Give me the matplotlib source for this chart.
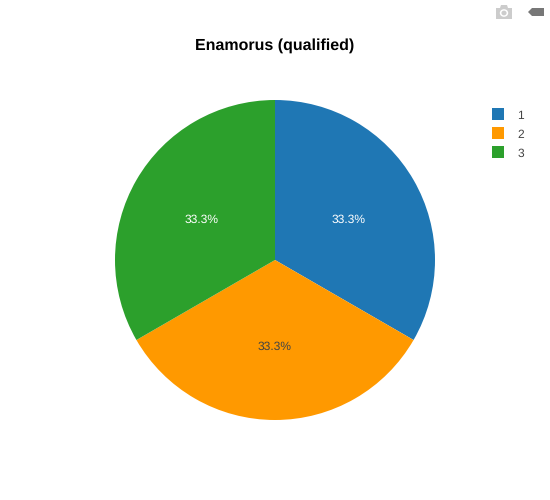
import matplotlib
matplotlib.use("Agg")
import matplotlib.pyplot as plt
from matplotlib.patches import Circle, Polygon, Rectangle

labels = ["1", "2", "3"]
values = [1, 1, 1]
colors = ["#1f77b4", "#ff9900", "#2ca02c"]
pct_colors = ["white", "#444444", "white"]

plt.rcParams["font.family"] = ["Liberation Sans", "DejaVu Sans"]
plt.rcParams["text.hinting"] = "no_hinting"
plt.rcParams["text.hinting_factor"] = 1

fig = plt.figure(figsize=(5.5, 5.0), dpi=100)
# axes box in pixels: centre (275, 260), radius 160
ax = fig.add_axes([115 / 550, (500 - 420) / 500, 320 / 550, 320 / 500])

wedges, texts, autotexts = ax.pie(values, colors=colors, startangle=90, counterclock=False,
                                  radius=1, autopct="%.1f%%", pctdistance=0.53,
                                  wedgeprops={"linewidth": 0},
                                  textprops={"fontsize": 8.7})
for t, c in zip(autotexts, pct_colors):
    t.set_color(c)
    x, y = t.get_position()
    t.set_position((x, y - 0.012))
ax.set_xlim(-1, 1)
ax.set_ylim(-1, 1)

fig.text(275 / 550, 1 - 45.5 / 500, "Enamorus (qualified)", ha="center", va="center",
         fontsize=11.5, fontweight="bold", color="black")

# legend drawn by hand to hit plotly's layout
for i, (lab, c) in enumerate(zip(labels, colors)):
    y = 114 + 19 * i
    fig.add_artist(Rectangle((492 / 550, 1 - (y + 6) / 500), 12 / 550, 12 / 500,
                             transform=fig.transFigure, facecolor=c, edgecolor="none"))
    fig.text(517.5 / 550, 1 - (y + 1.5) / 500, lab, ha="left", va="center", fontsize=8.7, color="#444444")


# modebar icons, figure pixels with y going down
def px(points):
    return [(x / 550, 1 - y / 500) for x, y in points]


camera = [(496, 8), (500, 8), (501, 5), (507, 5), (508, 8), (512, 8), (512, 19), (496, 19)]
fig.add_artist(Polygon(px(camera), closed=True, transform=fig.transFigure,
                       facecolor="#cccccc", edgecolor="none"))
fig.add_artist(Circle((504 / 550, 1 - 13 / 500), 4.2 / 550, transform=fig.transFigure,
                      facecolor="white", edgecolor="none"))
fig.add_artist(Circle((504 / 550, 1 - 13 / 500), 2.6 / 550, transform=fig.transFigure,
                      facecolor="#cccccc", edgecolor="none"))
arrow = [(528, 12), (532, 8), (544, 8), (544, 16), (532, 16)]
fig.add_artist(Polygon(px(arrow), closed=True, transform=fig.transFigure,
                       facecolor="#777777", edgecolor="none"))

fig.savefig("out.png", dpi=100)
